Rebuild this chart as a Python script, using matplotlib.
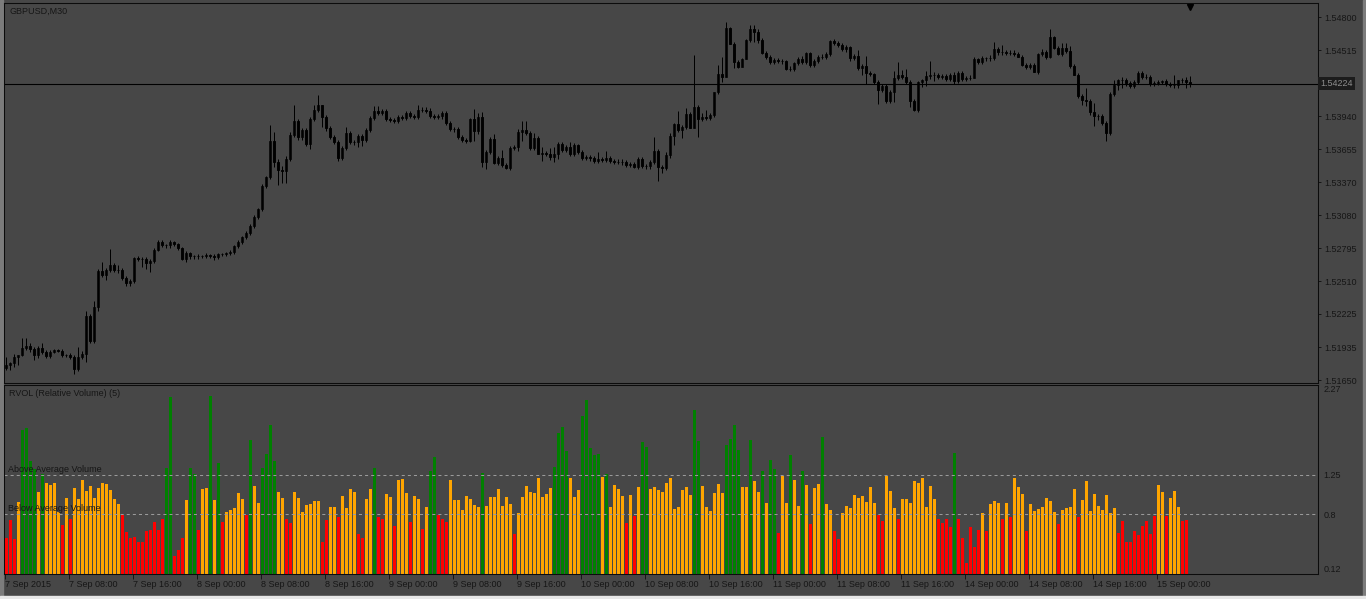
import numpy as np
import matplotlib
matplotlib.use('Agg')
import matplotlib.pyplot as plt
from matplotlib.transforms import blended_transform_factory

plt.rcParams['font.family'] = ['Liberation Sans', 'DejaVu Sans']
plt.rcParams['font.size'] = 6.5
plt.rcParams['lines.scale_dashes'] = False

W, H = 1366, 599
BG = '#474747'
INK = '#161616'
PIP = 0.0001

# GBPUSD M30 closes (open of each bar = previous close)
first_open = 1.51756
closes = [
    1.51779, 1.51799, 1.51851, 1.51869, 1.51930, 1.51947, 1.51921, 1.51869, 1.51930, 1.51895,
    1.51860, 1.51895, 1.51912, 1.51904, 1.51869, 1.51865, 1.51851, 1.51747, 1.51851, 1.51878,
    1.52207, 1.51990, 1.52285, 1.52598, 1.52563, 1.52607, 1.52650, 1.52607, 1.52603, 1.52537,
    1.52494, 1.52511, 1.52711, 1.52702, 1.52700, 1.52667, 1.52685, 1.52780, 1.52850, 1.52824,
    1.52820, 1.52850, 1.52832, 1.52798, 1.52702, 1.52754, 1.52728, 1.52725, 1.52727, 1.52730,
    1.52737, 1.52728, 1.52720, 1.52746, 1.52744, 1.52754, 1.52763, 1.52815, 1.52850, 1.52893,
    1.52928, 1.52989, 1.53067, 1.53136, 1.53336, 1.53414, 1.53726, 1.53544, 1.53475, 1.53466,
    1.53570, 1.53778, 1.53900, 1.53761, 1.53822, 1.53700, 1.53917, 1.53995, 1.54039, 1.53935,
    1.53839, 1.53761, 1.53718, 1.53579, 1.53666, 1.53796, 1.53718, 1.53715, 1.53770, 1.53735,
    1.53822, 1.53926, 1.53987, 1.53969, 1.53987, 1.53917, 1.53909, 1.53900, 1.53935, 1.53930,
    1.53969, 1.53943, 1.53935, 1.53995, 1.53998, 1.53990, 1.53943, 1.53935, 1.53940, 1.53969,
    1.53883, 1.53831, 1.53828, 1.53761, 1.53735, 1.53726, 1.53917, 1.53813, 1.53935, 1.53544,
    1.53631, 1.53744, 1.53535, 1.53579, 1.53518, 1.53492, 1.53666, 1.53670, 1.53804, 1.53822,
    1.53796, 1.53666, 1.53752, 1.53614, 1.53622, 1.53614, 1.53588, 1.53614, 1.53700, 1.53648,
    1.53674, 1.53614, 1.53692, 1.53631, 1.53579, 1.53588, 1.53575, 1.53553, 1.53570, 1.53561,
    1.53579, 1.53553, 1.53544, 1.53548, 1.53540, 1.53518, 1.53527, 1.53501, 1.53570, 1.53509,
    1.53505, 1.53544, 1.53640, 1.53501, 1.53492, 1.53605, 1.53770, 1.53874, 1.53822, 1.53848,
    1.53961, 1.53839, 1.54021, 1.53917, 1.53935, 1.53930, 1.53952, 1.54152, 1.54308, 1.54282,
    1.54707, 1.54568, 1.54412, 1.54369, 1.54438, 1.54603, 1.54699, 1.54672, 1.54603, 1.54490,
    1.54455, 1.54412, 1.54429, 1.54421, 1.54418, 1.54351, 1.54355, 1.54403, 1.54438, 1.54412,
    1.54490, 1.54386, 1.54421, 1.54455, 1.54458, 1.54482, 1.54594, 1.54577, 1.54560, 1.54525,
    1.54542, 1.54447, 1.54464, 1.54360, 1.54377, 1.54317, 1.54308, 1.54238, 1.54169, 1.54204,
    1.54073, 1.54152, 1.54273, 1.54299, 1.54282, 1.54238, 1.54073, 1.53995, 1.54238, 1.54256,
    1.54291, 1.54299, 1.54296, 1.54282, 1.54291, 1.54264, 1.54299, 1.54247, 1.54317, 1.54264,
    1.54273, 1.54276, 1.54438, 1.54412, 1.54447, 1.54444, 1.54450, 1.54525, 1.54499, 1.54496,
    1.54490, 1.54492, 1.54482, 1.54455, 1.54386, 1.54369, 1.54386, 1.54325, 1.54482, 1.54499,
    1.54455, 1.54629, 1.54534, 1.54482, 1.54534, 1.54508, 1.54377, 1.54299, 1.54117, 1.54082,
    1.54073, 1.53978, 1.53943, 1.53940, 1.53883, 1.53796, 1.54134, 1.54212, 1.54256, 1.54259,
    1.54230, 1.54204, 1.54238, 1.54317, 1.54282, 1.54285, 1.54221, 1.54230, 1.54238, 1.54247,
    1.54221, 1.54212, 1.54210, 1.54256, 1.54253, 1.54238, 1.54224,
]

# wick lengths in pips above / below the body
wick_up = [
    7, 1, 3, 0, 9, 7, 3, 2, 2, 4, 2, 2, 1, 1, 2, 1, 2, 2, 9, 3,
    4, 2, 5, 2, 8, 2, 14, 2, 4, 2, 2, 2, 1, 2, 2, 2, 2, 2, 2, 2,
    1, 2, 1, 1, 1, 2, 1, 1, 2, 1, 2, 1, 2, 1, 1, 1, 2, 1, 2, 1,
    2, 2, 2, 1, 2, 1, 14, 8, 3, 3, 3, 3, 14, 2, 2, 2, 2, 4, 9, 0,
    2, 2, 2, 2, 2, 5, 2, 2, 2, 2, 2, 2, 4, 4, 2, 2, 2, 2, 2, 2,
    2, 2, 2, 4, 2, 2, 2, 2, 2, 2, 2, 2, 2, 2, 2, 2, 1, 9, 3, 4,
    2, 2, 4, 2, 7, 2, 2, 2, 3, 8, 8, 2, 4, 2, 5, 2, 5, 6, 2, 2,
    2, 4, 2, 1, 2, 2, 2, 2, 6, 2, 6, 2, 2, 2, 2, 2, 2, 2, 2, 2,
    2, 2, 12, 2, 2, 3, 3, 1, 11, 2, 5, 2, 45, 2, 3, 6, 2, 0, 8, 15,
    5, 1, 2, 2, 1, 1, 3, 3, 3, 2, 2, 2, 2, 2, 2, 1, 2, 1, 2, 3,
    1, 1, 2, 2, 2, 2, 1, 2, 2, 2, 2, 1, 2, 5, 2, 9, 2, 1, 2, 2,
    2, 2, 6, 11, 4, 7, 2, 2, 1, 1, 4, 12, 3, 2, 2, 2, 2, 3, 2, 2,
    2, 2, 2, 1, 2, 1, 2, 6, 2, 6, 2, 2, 2, 2, 2, 2, 2, 2, 1, 3,
    2, 7, 1, 2, 4, 4, 4, 2, 2, 2, 10, 2, 8, 2, 2, 2, 2, 4, 1, 2,
    1, 2, 2, 2, 2, 2, 1, 2, 2, 1, 2, 2, 9, 0, 2, 3, 5,
]
wick_dn = [
    2, 4, 3, 7, 1, 2, 3, 4, 3, 2, 2, 2, 1, 1, 2, 1, 2, 4, 2, 2,
    7, 2, 2, 3, 2, 4, 2, 2, 2, 2, 3, 3, 2, 2, 7, 5, 8, 2, 1, 2,
    2, 2, 2, 2, 1, 3, 3, 2, 2, 2, 2, 2, 3, 2, 2, 2, 2, 2, 2, 2,
    2, 2, 2, 2, 2, 2, 2, 4, 13, 10, 10, 2, 2, 3, 3, 2, 4, 2, 2, 9,
    3, 2, 2, 3, 2, 2, 2, 2, 4, 5, 2, 2, 2, 2, 2, 2, 2, 2, 2, 2,
    2, 2, 2, 2, 2, 2, 2, 2, 2, 2, 2, 2, 2, 2, 2, 2, 1, 9, 3, 4,
    6, 2, 1, 2, 2, 1, 2, 2, 3, 8, 2, 2, 2, 0, 6, 2, 3, 4, 4, 2,
    2, 2, 2, 2, 2, 2, 2, 2, 2, 2, 2, 2, 2, 2, 2, 2, 2, 1, 2, 2,
    2, 2, 2, 12, 4, 2, 3, 8, 2, 7, 2, 0, 0, 16, 2, 2, 2, 2, 2, 4,
    0, 0, 5, 1, 0, 0, 2, 9, 3, 1, 2, 2, 2, 2, 2, 1, 2, 2, 2, 2,
    2, 2, 2, 2, 2, 2, 2, 2, 2, 2, 3, 3, 2, 2, 6, 10, 2, 2, 12, 2,
    2, 2, 9, 2, 2, 2, 5, 1, 2, 4, 5, 3, 5, 2, 2, 2, 2, 3, 2, 2,
    2, 2, 0, 2, 2, 2, 2, 2, 3, 2, 2, 2, 2, 0, 1, 2, 2, 0, 2, 2,
    2, 1, 1, 1, 2, 2, 2, 0, 2, 4, 4, 3, 9, 3, 2, 7, 2, 2, 4, 7,
    3, 2, 2, 2, 2, 2, 2, 2, 2, 2, 2, 2, 2, 2, 2, 5, 3,
]

# RVOL (5) values per bar
rvol = [
    0.53, 0.73, 0.52, 0.94, 1.76, 1.78, 1.41, 1.31, 1.05, 1.26,
    1.15, 1.13, 1.16, 0.82, 0.68, 0.99, 0.75, 1.10, 0.97, 1.19,
    1.06, 1.12, 0.98, 1.10, 1.15, 1.14, 1.07, 0.97, 0.92, 0.79,
    0.60, 0.53, 0.54, 0.48, 0.48, 0.61, 0.62, 0.71, 0.62, 0.75,
    1.33, 2.13, 0.32, 0.39, 0.53, 0.96, 1.33, 1.26, 0.62, 1.09,
    1.10, 2.15, 0.96, 1.38, 0.71, 0.83, 0.85, 0.87, 1.04, 0.97,
    0.79, 1.65, 1.12, 0.93, 1.33, 1.49, 1.82, 1.40, 1.05, 0.98,
    0.75, 0.70, 1.05, 0.98, 0.83, 0.905, 0.92, 0.95, 0.95, 0.48,
    0.73, 0.88, 0.88, 0.77, 1.01, 0.87, 1.09, 1.05, 0.57, 0.53,
    0.97, 1.09, 1.33, 0.77, 0.75, 1.03, 0.995, 0.665, 1.19, 1.20,
    1.04, 0.71, 1.01, 0.97, 0.635, 0.88, 1.29, 1.45, 0.79, 0.74,
    0.71, 1.19, 0.96, 0.96, 0.85, 1.01, 0.97, 0.905, 0.88, 1.27,
    0.89, 0.995, 0.995, 1.09, 0.89, 0.995, 0.92, 0.58, 0.815, 0.995,
    1.12, 1.05, 1.04, 1.21, 0.995, 1.03, 1.10, 1.34, 1.72, 1.79,
    1.52, 1.21, 0.995, 1.07, 1.92, 2.10, 1.55, 1.47, 1.49, 1.22,
    1.26, 0.88, 1.13, 1.09, 1.01, 0.70, 1.02, 0.78, 1.11, 1.625,
    1.56, 1.09, 1.11, 1.07, 1.05, 1.16, 1.21, 0.86, 0.88, 1.07,
    1.11, 1.02, 1.99, 1.63, 1.12, 0.88, 0.84, 1.04, 1.14, 1.04,
    1.59, 1.655, 1.82, 1.535, 1.11, 1.11, 1.65, 1.175, 1.05, 1.29,
    0.93, 1.42, 1.32, 0.59, 1.24, 0.93, 1.475, 1.19, 0.89, 1.295,
    1.13, 0.69, 1.10, 1.14, 1.68, 0.92, 0.85, 0.61, 0.52, 0.815,
    0.89, 0.87, 1.02, 0.98, 1.01, 0.94, 1.11, 0.93, 0.79, 0.725,
    1.23, 1.06, 0.87, 0.74, 0.97, 0.97, 0.93, 1.175, 1.16, 1.21,
    0.88, 1.12, 0.97, 0.75, 0.70, 0.74, 0.66, 1.50, 0.75, 0.53,
    0.24, 0.66, 0.43, 0.62, 0.815, 0.61, 0.92, 0.95, 0.93, 0.75,
    0.93, 0.77, 1.21, 1.11, 1.03, 0.61, 0.92, 0.84, 0.86, 0.88,
    0.98, 0.95, 0.83, 0.69, 0.85, 0.87, 0.88, 1.09, 0.77, 0.96,
    1.175, 0.84, 1.03, 0.89, 0.85, 1.02, 0.815, 0.87, 0.59, 0.725,
    0.485, 0.485, 0.61, 0.56, 0.67, 0.725, 0.58, 0.78, 1.13, 1.05,
    0.785, 0.98, 1.06, 0.88, 0.725, 0.73,
]

price_ticks = [1.54800, 1.54515, 1.53940, 1.53655, 1.53370, 1.53080,
               1.52795, 1.52510, 1.52225, 1.51935, 1.51650]
rvol_ticks = [0.12, 0.8, 1.25, 2.27]
above_level, below_level = 1.25, 0.8
time_labels = ['7 Sep 2015', '7 Sep 08:00', '7 Sep 16:00', '8 Sep 00:00', '8 Sep 08:00',
               '8 Sep 16:00', '9 Sep 00:00', '9 Sep 08:00', '9 Sep 16:00', '10 Sep 00:00',
               '10 Sep 08:00', '10 Sep 16:00', '11 Sep 00:00', '11 Sep 08:00', '11 Sep 16:00',
               '14 Sep 00:00', '14 Sep 08:00', '14 Sep 16:00', '15 Sep 00:00']
bars_per_label = 16


def px_axes(fig, x0, y0, x1, y1):
    return fig.add_axes([x0 / W, 1 - y1 / H, (x1 - x0) / W, (y1 - y0) / H])


def style_axes(ax):
    ax.set_facecolor(BG)
    for s in ax.spines.values():
        s.set_color('#0c0c0c')
        s.set_linewidth(0.75)
    ax.tick_params(colors=INK, labelcolor=INK, width=0.7, direction='out')
    ax.set_xlim(-0.5, 328)


fig = plt.figure(figsize=(W / 100, H / 100), dpi=100, facecolor=BG)

# ---- price panel
ax = px_axes(fig, 4, 3, 1318, 383)
style_axes(ax)
c = np.array(closes)
o = np.array([first_open] + closes[:-1])
idx = np.arange(len(c))
hi_body = np.maximum(o, c)
lo_body = np.minimum(o, c)
highs = hi_body + np.array(wick_up) * PIP
lows = lo_body - np.array(wick_dn) * PIP
xc = idx - 0.125
ax.vlines(xc, lows, highs, color='black', lw=0.72)
height = np.maximum(hi_body - lo_body, 0.000015)
bull = c >= o
ax.bar(xc[bull], height[bull], bottom=lo_body[bull], width=0.5,
       color='white', edgecolor='black', lw=0.65)
ax.bar(xc[~bull], height[~bull], bottom=lo_body[~bull], width=0.5,
       color='black', edgecolor='black', lw=0.65)
ax.axhline(closes[-1], color='black', lw=0.8)
ax.set_ylim(1.51626, 1.54924)
ax.yaxis.tick_right()
ax.set_yticks(price_ticks)
ax.set_yticklabels(['%.5f' % p for p in price_ticks])
ax.tick_params(axis='y', length=2.5, pad=2.2, labelsize=6.5)
ax.set_xticks([])
ax.text(0.004, 0.979, 'GBPUSD,M30', transform=ax.transAxes, color=INK,
        fontsize=6.5, va='center', ha='left')
tr = blended_transform_factory(ax.transAxes, ax.transData)
ax.text(1.0016, closes[-1], '%.5f' % closes[-1], transform=tr, color='#8c8c8c',
        fontsize=6.5, va='center', ha='left', clip_on=False,
        bbox=dict(facecolor='#1c1c1c', edgecolor='none', boxstyle='square,pad=0.25'))
trx = blended_transform_factory(ax.transData, ax.transAxes)
ax.plot([len(closes) - 1.1], [0.99], marker='v', color='black', markersize=5,
        transform=trx, clip_on=False)

# ---- RVOL panel
ax2 = px_axes(fig, 4, 385, 1318, 574)
style_axes(ax2)
v = np.array(rvol)
vx = np.arange(len(v)) + 0.125
colors = np.where(v >= above_level, '#008000', np.where(v < below_level, '#ff0000', '#ffa500'))
ax2.bar(vx, v, width=0.75, color=colors, lw=0, antialiased=False)
for lvl in (above_level, below_level):
    ax2.axhline(lvl, color='#9a9a9a', lw=0.75, linestyle=(0, (2.2, 2.2)))
ax2.set_ylim(rvol_ticks[0], rvol_ticks[-1])
ax2.yaxis.tick_right()
ax2.set_yticks(rvol_ticks)
ylabs = ax2.set_yticklabels([('%.2f' % t).rstrip('0') for t in rvol_ticks])
ylabs[0].set_va('bottom')
ylabs[-1].set_va('top')
ax2.tick_params(axis='y', length=0, pad=4, labelsize=6.5)
ax2.set_xticks([k * bars_per_label - 0.25 for k in range(len(time_labels))])
ax2.set_xticklabels(time_labels, ha='left')
ax2.tick_params(axis='x', length=3.6, pad=0.6, labelsize=6.5)
ax2.text(0.004, 0.955, 'RVOL (Relative Volume) (5)', transform=ax2.transAxes,
         color=INK, fontsize=6.5, va='center', ha='left')
tr2 = blended_transform_factory(ax2.transAxes, ax2.transData)
ax2.text(0.003, above_level + 0.06, 'Above Average Volume', transform=tr2,
         color=INK, fontsize=6.5, va='center', ha='left')
ax2.text(0.003, below_level + 0.06, 'Below Average Volume', transform=tr2,
         color=INK, fontsize=6.5, va='center', ha='left')

# window frame
fig.patches.append(plt.Rectangle((0, 0), 3 / W, 1, transform=fig.transFigure,
                                 color='#7c7c7c', zorder=-1))
fig.patches.append(plt.Rectangle((1363 / W, 0), 3 / W, 1, transform=fig.transFigure,
                                 color='#7c7c7c', zorder=-1))
fig.patches.append(plt.Rectangle((0, 0), 1, 3 / H, transform=fig.transFigure,
                                 color='#e8e8e8', zorder=-1))

fig.savefig('out.png', dpi=100, facecolor=BG)
